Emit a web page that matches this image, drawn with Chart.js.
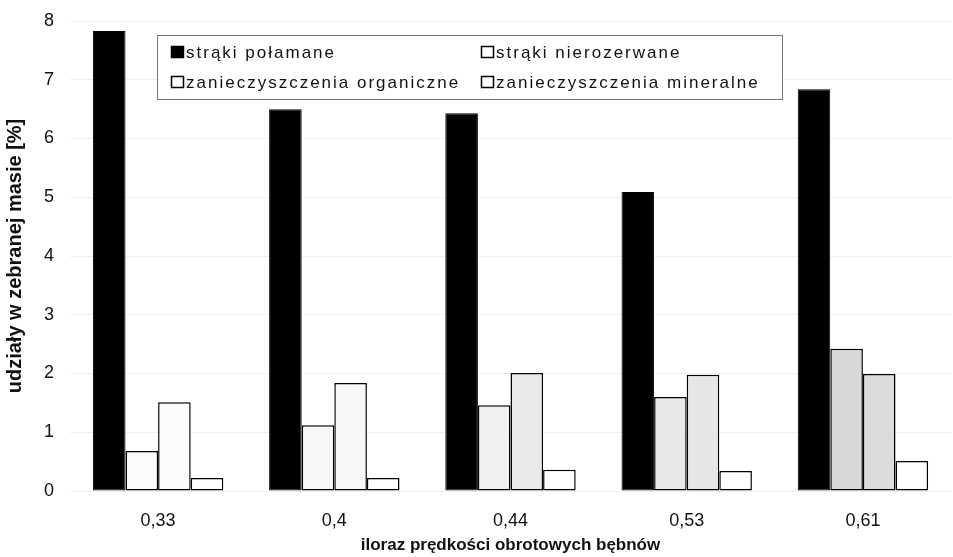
<!DOCTYPE html>
<html lang="pl">
<head>
  <meta charset="UTF-8">
  <script src="https://cdn.jsdelivr.net/npm/chart.js"></script>
  <style>
    body { margin: 0; background: #fff; }
    #wrap { width: 953px; height: 557px; }
  </style>
  <title>udziały w zebranej masie</title>
</head>
<body>
  <div id="wrap"><canvas id="chart" width="953" height="557"></canvas></div>
  <script>
    const categories = ['0,33', '0,4', '0,44', '0,53', '0,61'];
    const seriesNames = ['strąki połamane', 'strąki nierozerwane', 'zanieczyszczenia organiczne', 'zanieczyszczenia mineralne'];
    const strakiPolamane = [7.83, 6.5, 6.43, 5.09, 6.84];
    const strakiNierozerwane = [0.68, 1.12, 1.46, 1.6, 2.42];
    const zanieczOrganiczne = [1.51, 1.84, 2.01, 1.98, 1.99];
    const zanieczMineralne = [0.22, 0.22, 0.36, 0.34, 0.51];
    const yTicks = [0, 1, 2, 3, 4, 5, 6, 7, 8];

    const font = "'Liberation Sans', Arial, sans-serif";

    // legend drawn in a framed box inside the plot, like the original
    const boxLegend = {
      id: 'boxLegend',
      afterDraw(chart) {
        const ctx = chart.ctx;
        const x0 = 157, y0 = 35, w = 625, h = 64;
        ctx.save();
        ctx.fillStyle = '#fff';
        ctx.fillRect(x0, y0, w, h);
        ctx.strokeStyle = '#777';
        ctx.lineWidth = 1;
        ctx.strokeRect(x0 + 0.5, y0 + 0.5, w, h);
        ctx.font = '17px ' + font;
        ctx.letterSpacing = '2px';
        ctx.textBaseline = 'middle';
        chart.data.datasets.forEach((ds, i) => {
          const col = i % 2, row = Math.floor(i / 2);
          const x = col === 0 ? 171 : 481;
          const y = row === 0 ? 52 : 82;
          ctx.fillStyle = i === 0 ? '#000' : '#fff';
          ctx.fillRect(x, y - 6, 13, 12);
          ctx.strokeStyle = '#000';
          ctx.lineWidth = 1.5;
          ctx.strokeRect(x + 0.5, y - 5.5, 12, 11);
          ctx.fillStyle = '#111';
          ctx.fillText(ds.label, x + 15, y + 1);
        });
        ctx.restore();
      }
    };

    new Chart(document.getElementById('chart'), {
      type: 'bar',
      data: {
        labels: categories,
        datasets: [
          { label: seriesNames[0], data: strakiPolamane, backgroundColor: '#000', borderColor: '#000', borderWidth: 1 },
          { label: seriesNames[1], data: strakiNierozerwane, backgroundColor: ['#fbfbfb', '#f7f7f7', '#efefef', '#e8e8e8', '#d8d8d8'], borderColor: '#000', borderWidth: 1.5 },
          { label: seriesNames[2], data: zanieczOrganiczne, backgroundColor: ['#fbfbfb', '#f7f7f7', '#e9e9e9', '#e6e6e6', '#dcdcdc'], borderColor: '#000', borderWidth: 1.5 },
          { label: seriesNames[3], data: zanieczMineralne, backgroundColor: '#fff', borderColor: '#000', borderWidth: 1.5 }
        ]
      },
      options: {
        responsive: false,
        animation: false,
        layout: { padding: { top: 21, right: 2, bottom: 0, left: 0 } },
        datasets: { bar: { barPercentage: 1.0, categoryPercentage: 0.74, borderSkipped: false } },
        plugins: {
          legend: { display: false },
          tooltip: { enabled: false }
        },
        scales: {
          x: {
            afterFit: (scale) => { scale.height = 66; },
            grid: { display: false, drawTicks: false },
            border: { display: false },
            ticks: { color: '#111', font: { family: font, size: 18 }, padding: 19 },
            title: {
              display: true,
              text: 'iloraz prędkości obrotowych bębnów',
              color: '#111',
              font: { family: font, size: 17, weight: 'bold' },
              padding: { top: 0, bottom: 1 }
            }
          },
          y: {
            min: 0,
            max: 8,
            afterBuildTicks: (scale) => { scale.ticks = yTicks.map(v => ({ value: v })); },
            afterFit: (scale) => {
              scale.width = 70;
              scale.paddingTop = 0;
              scale.paddingBottom = 0;
            },
            grid: { color: 'rgba(0,0,0,0.06)', drawTicks: false },
            border: { display: false },
            ticks: { color: '#111', font: { family: font, size: 18 }, padding: 16 },
            title: {
              display: true,
              text: 'udziały w zebranej masie [%]',
              color: '#111',
              font: { family: font, size: 20, weight: 'bold' },
              padding: { top: 3, bottom: 0 }
            }
          }
        }
      },
      plugins: [boxLegend]
    });
  </script>
</body>
</html>
